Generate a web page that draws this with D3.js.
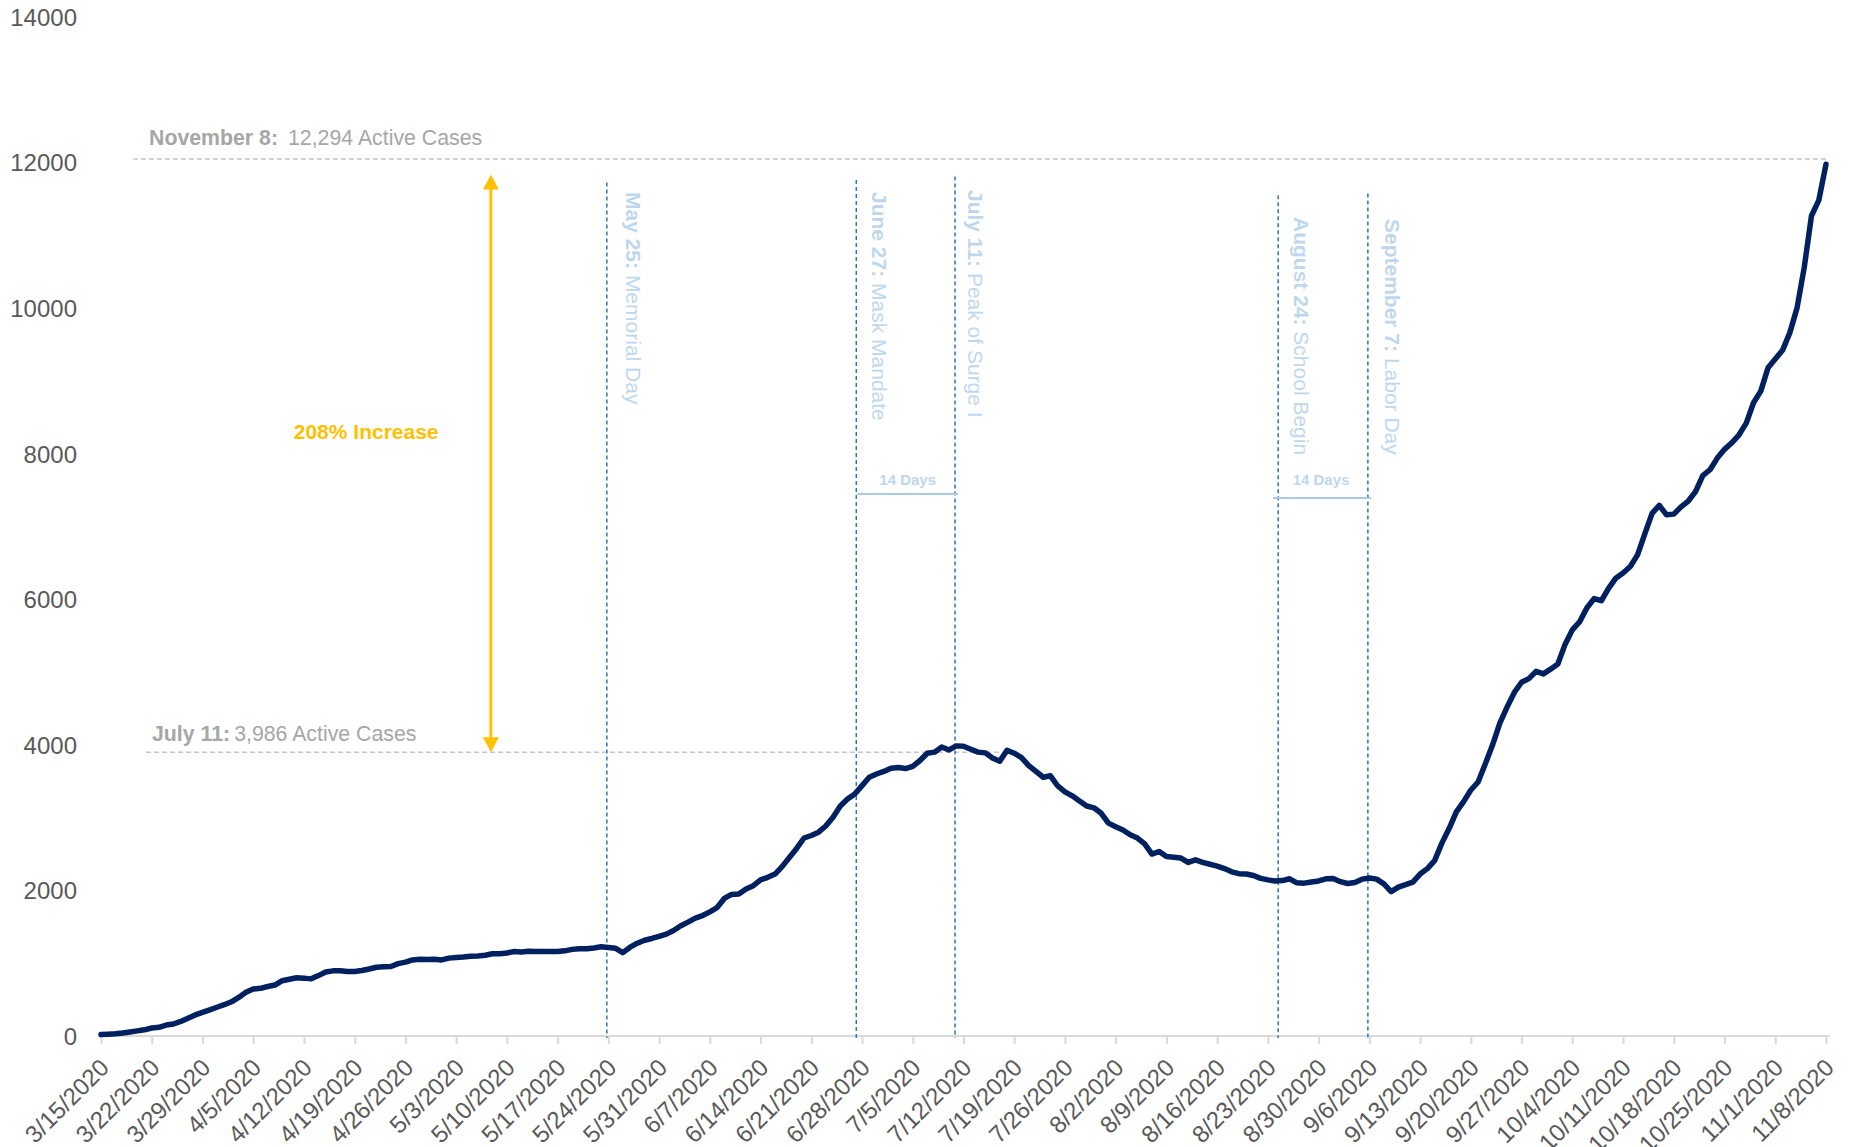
<!DOCTYPE html>
<html>
<head>
<meta charset="utf-8">
<script src="https://cdn.jsdelivr.net/npm/d3@7"></script>
<style>
  html, body { margin: 0; padding: 0; background: #ffffff; }
  svg { display: block; font-family: "Liberation Sans", Arial, sans-serif; }
</style>
</head>
<body>
<svg id="chart" width="1850" height="1147"></svg>
<script>
// ---------------- DATA ----------------
const startDate = "2020-03-15";

// Daily active cases, 3/15/2020 through 11/8/2020
const activeCases = [
  20, 25, 30, 40, 55, 70, 85, 110, 120, 150,
  165, 200, 245, 290, 325, 360, 395, 430, 470, 530,
  600, 645, 655, 680, 700, 760, 780, 800, 795, 785,
  830, 880, 895, 895, 885, 885, 900, 920, 945, 950,
  955, 995, 1015, 1045, 1055, 1050, 1055, 1045, 1070, 1080,
  1085, 1095, 1100, 1110, 1130, 1130, 1140, 1160, 1155, 1165,
  1160, 1160, 1160, 1160, 1170, 1190, 1200, 1200, 1210, 1225,
  1215, 1205, 1145, 1220, 1275, 1315, 1340, 1370, 1400, 1450,
  1515, 1565, 1620, 1655, 1705, 1765, 1890, 1945, 1950, 2020,
  2065, 2145, 2180, 2225, 2330, 2455, 2580, 2720, 2755, 2800,
  2885, 3005, 3160, 3255, 3325, 3440, 3555, 3600, 3635, 3680,
  3690, 3675, 3705, 3785, 3885, 3900, 3970, 3930, 3986, 3980,
  3940, 3900, 3890, 3820, 3775, 3925, 3885, 3825, 3715, 3635,
  3555, 3575, 3435, 3355, 3300, 3230, 3160, 3135, 3060, 2925,
  2875, 2830, 2765, 2720, 2640, 2500, 2535, 2465, 2455, 2445,
  2385, 2420, 2385, 2360, 2335, 2300, 2255, 2230, 2225, 2205,
  2165, 2145, 2130, 2135, 2160, 2105, 2100, 2115, 2130, 2160,
  2165, 2120, 2095, 2110, 2155, 2170, 2155, 2090, 1985, 2045,
  2080, 2115, 2225, 2300, 2410, 2650, 2850, 3080, 3220, 3380,
  3490, 3740, 4000, 4300, 4520, 4720, 4860, 4910, 5010, 4975,
  5040, 5110, 5380, 5580, 5690, 5880, 6010, 5980, 6150, 6290,
  6360, 6450, 6610, 6900, 7180, 7290, 7160, 7170, 7270, 7350,
  7480, 7700, 7780, 7940, 8060, 8150, 8260, 8420, 8700, 8860,
  9180, 9300, 9420, 9660, 10000, 10560, 11270, 11480, 11978
];

const xTickLabels = [
  "3/15/2020","3/22/2020","3/29/2020","4/5/2020","4/12/2020","4/19/2020","4/26/2020",
  "5/3/2020","5/10/2020","5/17/2020","5/24/2020","5/31/2020","6/7/2020","6/14/2020",
  "6/21/2020","6/28/2020","7/5/2020","7/12/2020","7/19/2020","7/26/2020","8/2/2020",
  "8/9/2020","8/16/2020","8/23/2020","8/30/2020","9/6/2020","9/13/2020","9/20/2020",
  "9/27/2020","10/4/2020","10/11/2020","10/18/2020","10/25/2020","11/1/2020","11/8/2020"
];

const yTickValues = [0, 2000, 4000, 6000, 8000, 10000, 12000, 14000];

// Event markers: where each dashed line is drawn, and the value at its top end
const eventDates  = ["2020-05-23T19:00Z", "2020-06-27T05:00Z", "2020-07-10T20:00Z", "2020-08-24T10:00Z", "2020-09-05T19:00Z"];
const eventTops   = [11725, 11760, 11810, 11550, 11575];
const eventBold   = ["May 25:", "June 27:", "July 11:", "August 24:", "September 7:"];
const eventText   = [" Memorial Day", " Mask Mandate", " Peak of Surge I", " School Begin", " Labor Day"];

// Reference levels
const refLabelsBold = ["November 8:", "July 11:"];
const refLabelsText = ["12,294 Active Cases", "3,986 Active Cases"];
const refValues     = [12050, 3900];
const refFrom       = ["2020-03-19T10:00Z", "2020-03-21T05:00Z"];
const refTo         = ["2020-11-08T00:00Z", "2020-07-17T07:00Z"];

const arrowDate = "2020-05-07T19:00Z";
const arrowFrom = 3900, arrowTo = 11835;
const increaseLabel = "208% Increase";
const spanLabel = "14 Days";

// ---------------- LAYOUT ----------------
const svg = d3.select("#chart");
const W = 1850, H = 1147;
svg.append("rect").attr("width", W).attr("height", H).attr("fill", "#ffffff");

const parse = d3.utcParse("%Y-%m-%d");
const t0 = parse(startDate);
const dates = activeCases.map((_, i) => d3.utcDay.offset(t0, i));
const data = activeCases.map((v, i) => ({ date: dates[i], value: v }));
const tickDates = xTickLabels.map((_, i) => d3.utcDay.offset(t0, i * 7));

const x = d3.scaleUtc().domain([dates[0], dates[dates.length - 1]]).range([101, 1826]);
const y = d3.scaleLinear().domain([0, 14000]).range([1036, 17]);

const FONT = "'Liberation Sans', Arial, sans-serif";

// ---------------- Y AXIS ----------------
const yAxis = d3.axisLeft(y).tickValues(yTickValues).tickSize(0).tickPadding(24).tickFormat(d3.format("d"));
const gy = svg.append("g").attr("transform", "translate(101,0)").call(yAxis);
gy.select(".domain").remove();
gy.selectAll("text").attr("fill", "#595959").attr("font-size", 24).attr("font-family", FONT).attr("dy", "0.35em");

// ---------------- X AXIS ----------------
const xAxis = d3.axisBottom(x).tickValues(tickDates).tickSize(8).tickSizeOuter(0)
  .tickFormat((d, i) => xTickLabels[i]);
const gx = svg.append("g").attr("transform", "translate(0,1036)").call(xAxis);
gx.select(".domain").remove();
gx.selectAll(".tick line").attr("stroke", "#d9d9d9").attr("stroke-width", 2);
gx.selectAll(".tick text")
  .attr("x", 0).attr("y", 0).attr("dy", null)
  .attr("text-anchor", "end")
  .attr("transform", "translate(9,33) rotate(-45)")
  .attr("fill", "#595959").attr("font-size", 24).attr("font-family", FONT);
gx.append("line")
  .attr("x1", x.range()[0] - 2).attr("x2", x.range()[1] + 4)
  .attr("y1", 0).attr("y2", 0)
  .attr("stroke", "#d9d9d9").attr("stroke-width", 2);

// ---------------- REFERENCE LINES ----------------
refValues.forEach((v, i) => {
  svg.append("line")
    .attr("x1", x(new Date(refFrom[i]))).attr("x2", x(new Date(refTo[i])))
    .attr("y1", y(v)).attr("y2", y(v))
    .attr("stroke", "#c8c8c8").attr("stroke-width", 1.5).attr("stroke-dasharray", "5,3");
  const t = svg.append("text")
    .attr("x", x(new Date(refFrom[i])) + (i === 0 ? 16 : 6))
    .attr("y", y(v) - (i === 0 ? 14 : 11))
    .attr("font-family", FONT).attr("font-size", 21.3).attr("fill", "#a6a6a6");
  t.append("tspan").attr("font-weight", "bold").text(refLabelsBold[i]);
  t.append("tspan").attr("dx", i === 0 ? 10 : 4).text(refLabelsText[i]);
});

// ---------------- EVENT LINES ----------------
const labelStartY = [192, 192, 190, 217, 219];
const labelDx = [19, 16, 13, 16, 17];
eventDates.forEach((d, i) => {
  const ex = x(new Date(d));
  svg.append("line")
    .attr("x1", ex).attr("x2", ex)
    .attr("y1", y(eventTops[i])).attr("y2", y(0) + 2)
    .attr("stroke", "#2e75b6").attr("stroke-width", 1.5).attr("stroke-dasharray", "4,3");
  const t = svg.append("text")
    .attr("transform", `translate(${ex + labelDx[i]},${labelStartY[i]}) rotate(90)`)
    .attr("font-family", FONT).attr("font-size", 21).attr("fill", "#bdd7ee");
  t.append("tspan").attr("font-weight", "bold").text(eventBold[i]);
  t.append("tspan").text(eventText[i]);
});

// "14 Days" spans
[[1, 2, 494], [3, 4, 498]].forEach(([a, b, yy]) => {
  const xa = x(new Date(eventDates[a])), xb = x(new Date(eventDates[b]));
  svg.append("line")
    .attr("x1", xa + (a === 1 ? 1 : -5)).attr("x2", xb + 3)
    .attr("y1", yy).attr("y2", yy)
    .attr("stroke", "#a9c8ea").attr("stroke-width", 2);
  svg.append("text")
    .attr("x", (xa + xb) / 2 + (a === 1 ? 2 : -2)).attr("y", 485)
    .attr("text-anchor", "middle")
    .attr("font-family", FONT).attr("font-size", 15).attr("font-weight", "bold")
    .attr("fill", "#bdd7ee").text(spanLabel);
});

// ---------------- DATA LINE ----------------
const line = d3.line().x(d => x(d.date)).y(d => y(d.value));
svg.append("path")
  .datum(data)
  .attr("d", line)
  .attr("fill", "none")
  .attr("stroke", "#002060")
  .attr("stroke-width", 5.5)
  .attr("stroke-linejoin", "round")
  .attr("stroke-linecap", "round");

// ---------------- YELLOW ARROW ----------------
const ax = x(new Date(arrowDate));
const yTop = y(arrowTo), yBot = y(arrowFrom);
const headL = 15, headW = 8;
svg.append("line")
  .attr("x1", ax).attr("x2", ax)
  .attr("y1", yTop + headL - 1).attr("y2", yBot - headL + 1)
  .attr("stroke", "#ffc000").attr("stroke-width", 3);
svg.append("path")
  .attr("d", `M${ax},${yTop} L${ax + headW},${yTop + headL} L${ax - headW},${yTop + headL} Z`)
  .attr("fill", "#ffc000");
svg.append("path")
  .attr("d", `M${ax},${yBot} L${ax + headW},${yBot - headL} L${ax - headW},${yBot - headL} Z`)
  .attr("fill", "#ffc000");
svg.append("text")
  .attr("x", x(new Date("2020-04-20T14:00Z"))).attr("y", y(8300) + 7)
  .attr("text-anchor", "middle")
  .attr("font-family", FONT).attr("font-size", 21).attr("font-weight", "bold")
  .attr("fill", "#ffc000").text(increaseLabel);
</script>
</body>
</html>
